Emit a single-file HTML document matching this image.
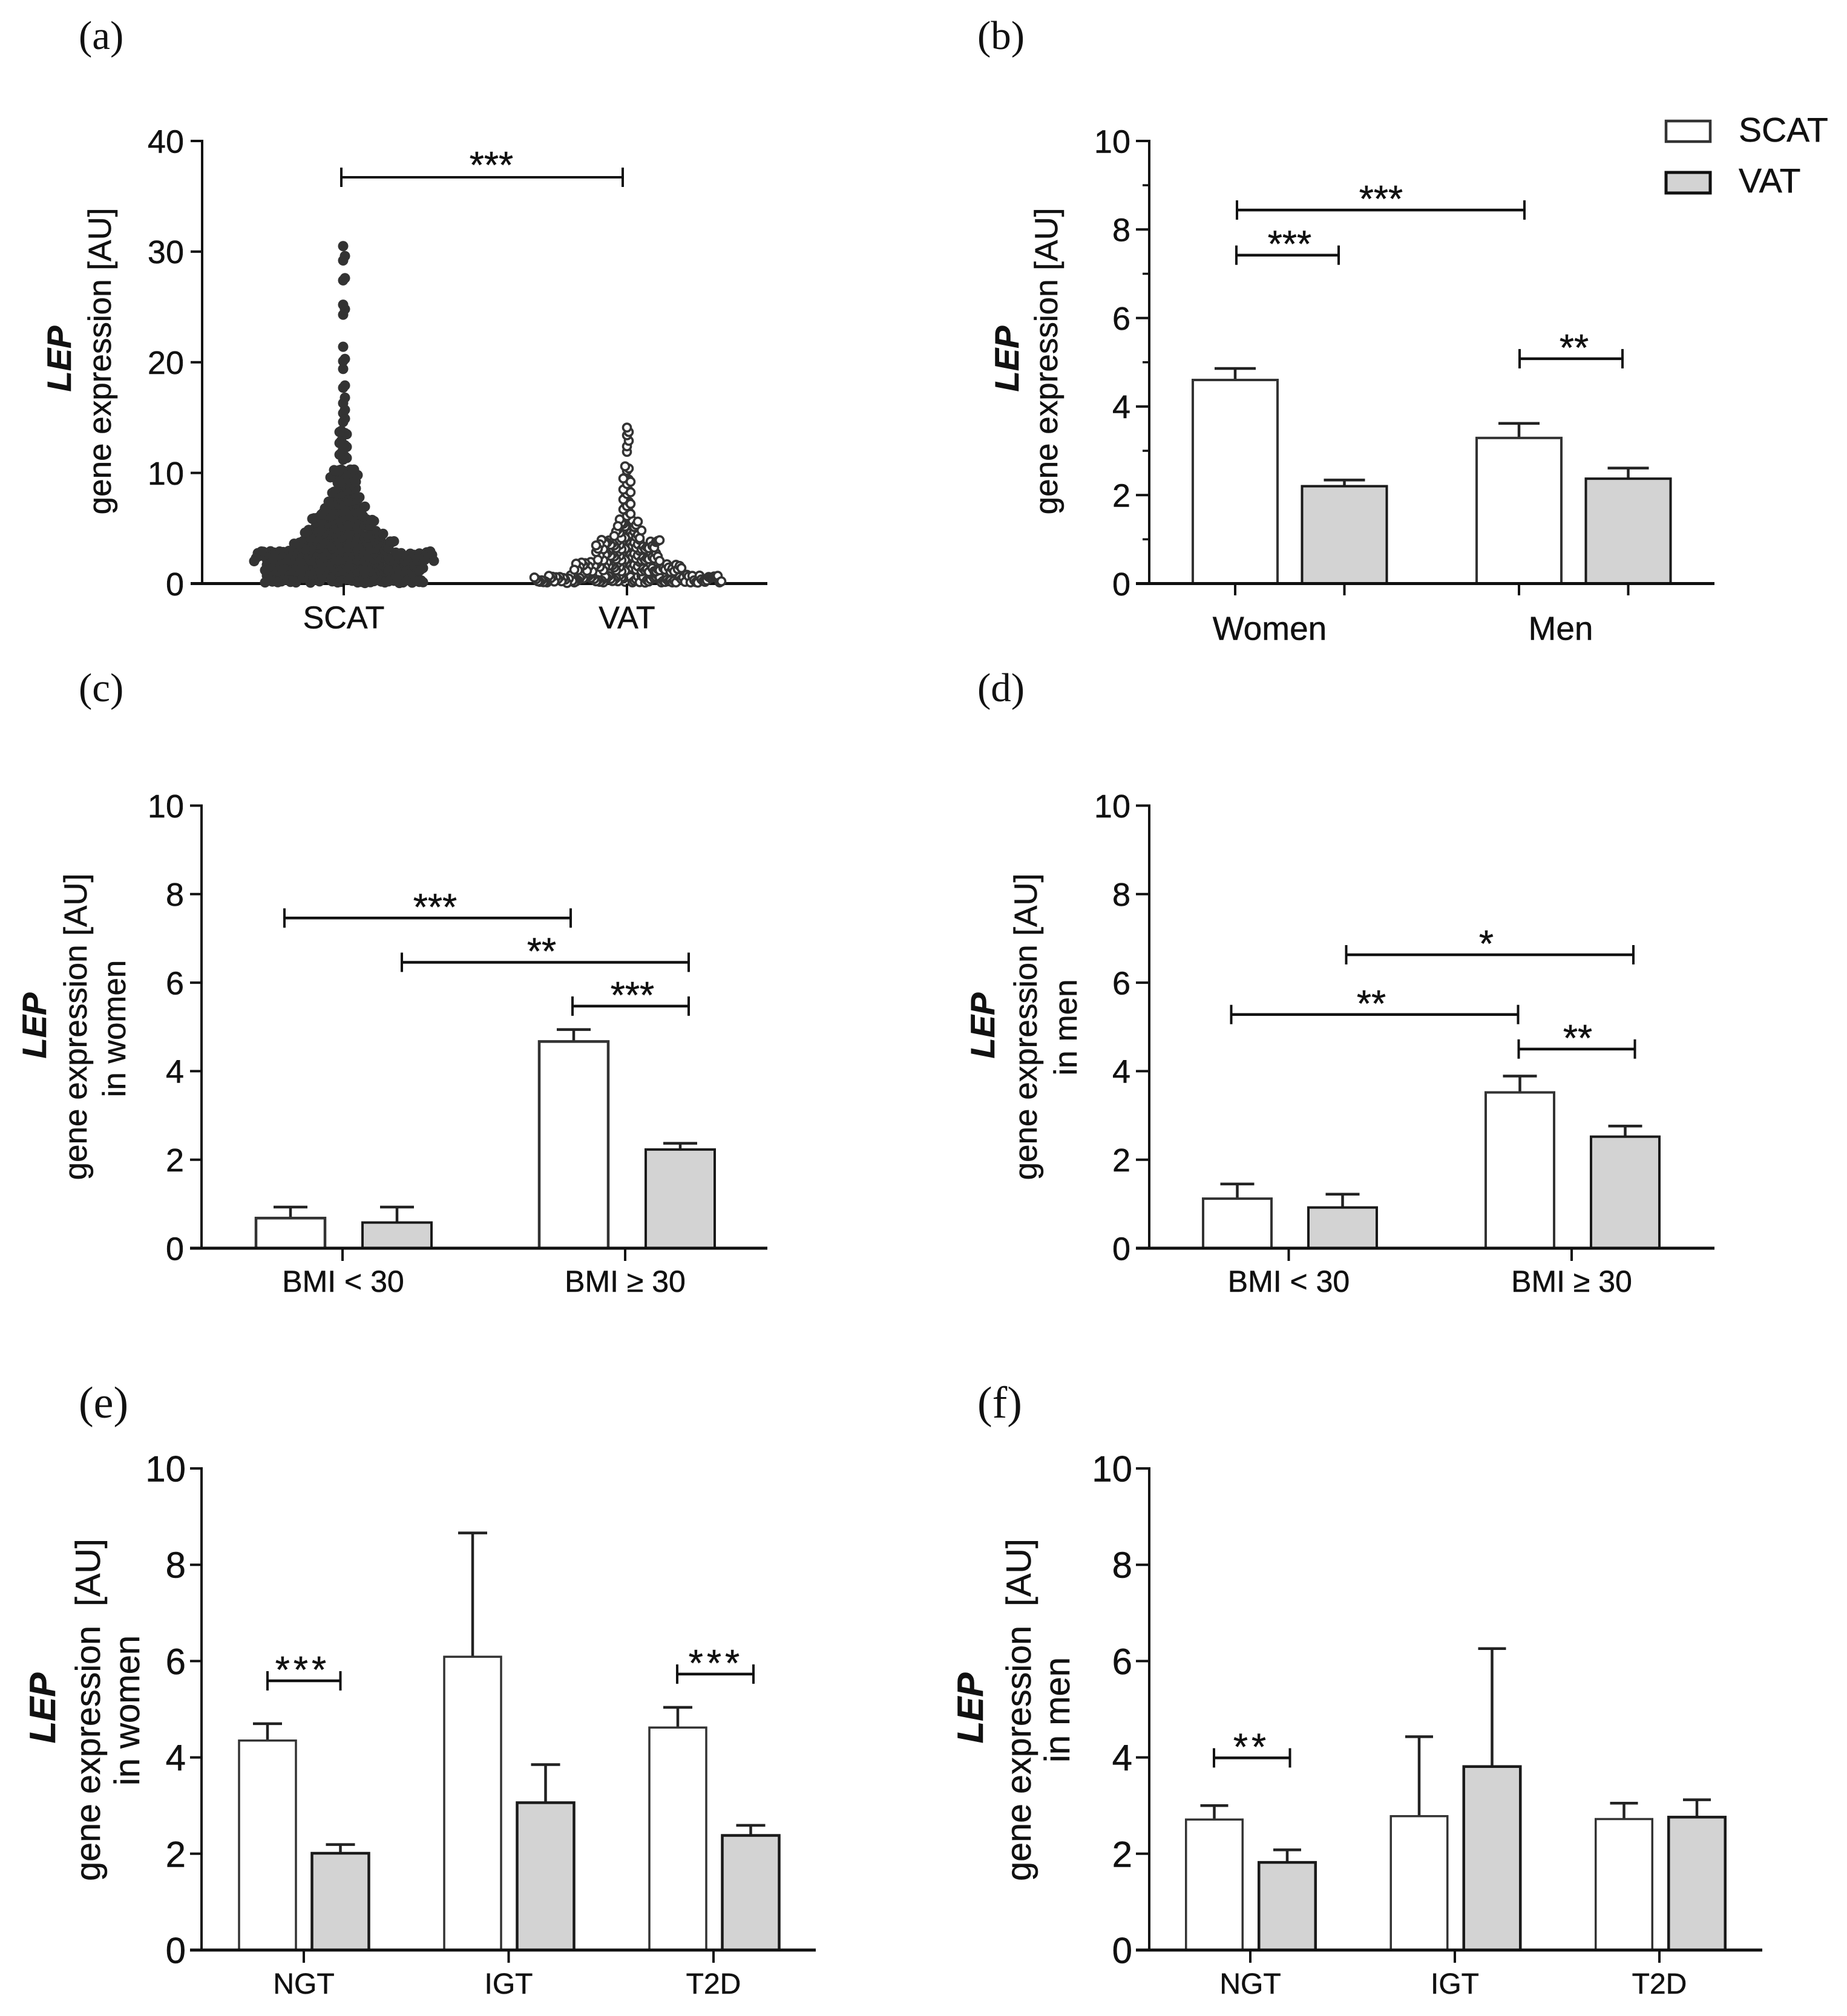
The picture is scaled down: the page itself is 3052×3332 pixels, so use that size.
<!DOCTYPE html>
<html lang="en">
<head>
<meta charset="utf-8">
<title>LEP gene expression</title>
<style>
html,body{margin:0;padding:0;background:#fff;}
svg{display:block;}
text{font-family:"Liberation Sans",sans-serif;fill:#111;stroke:#111;stroke-width:.5px;}
.panel-letter{font-family:"Liberation Serif",serif;font-size:67px;fill:#111;stroke:none;}
.panel-letter-big{font-size:74px;}
</style>
</head>
<body>
<svg id="figure" xmlns="http://www.w3.org/2000/svg" width="3052" height="3332" viewBox="0 0 3052 3332">
  <rect x="0" y="0" width="3052" height="3332" fill="#fff"/>
  <text class="panel-letter" x="130" y="81">(a)</text>
  <text class="panel-letter" x="1615" y="81">(b)</text>
  <text class="panel-letter" x="130" y="1159">(c)</text>
  <text class="panel-letter" x="1615" y="1159">(d)</text>
  <text class="panel-letter panel-letter-big" x="130" y="2343">(e)</text>
  <text class="panel-letter panel-letter-big" x="1615" y="2343">(f)</text>
  <g>
    <rect x="2753" y="200" width="73" height="34" fill="#fff" stroke="#333" stroke-width="4.5"/>
    <text x="2873" y="234" font-size="57">SCAT</text>
    <rect x="2753" y="285" width="73" height="34" fill="#d3d3d3" stroke="#111" stroke-width="5"/>
    <text x="2873" y="318" font-size="57">VAT</text>
  </g>
</svg>
<script>
const NS = 'http://www.w3.org/2000/svg';
const figure = document.getElementById('figure');

/* ---------- data ---------- */
const swarmCategories = ['SCAT', 'VAT'];
const swarmTicks = [0, 10, 20, 30, 40];
const barTicks = [0, 2, 4, 6, 8, 10];
const minorTicksB = [1, 3, 5, 7, 9];

const scatValues = [
.3,.8,.15,.6,.9,.4,.1,.7,.5,.25,.85,.55,.2,.95,.45,.1,.65,.35,.8,.15,.6,.3,.9,.05,.5,.75,.2,.4,.85,.12,.62,.32,.92,.22,.52,.72,.08,.42,.82,.28,.58,.18,.88,.38,
.5,.1,.9,.3,.7,.2,.6,.8,.1,.4,.95,.25,.55,.75,.15,.45,.85,.05,.65,.35,.9,.1,.5,.7,.2,.3,.8,.6,.12,.42,.92,.08,.58,.72,.18,.38,.62,.22,.48,.15,.72,.28,.1,.12,
1.3,1.8,1.15,1.6,1.9,1.4,1.1,1.7,1.5,1.25,1.85,1.55,1.2,1.95,1.45,1.1,1.65,1.35,1.8,1.15,1.6,1.3,1.9,1.05,1.5,1.75,1.2,1.4,1.85,1.12,1.62,1.32,1.92,1.22,1.52,1.72,1.08,1.42,1.82,1.28,1.58,1.18,1.88,1.38,
1.5,1.1,1.9,1.3,1.7,1.2,1.6,1.8,1.1,1.4,1.95,1.25,1.55,1.75,1.15,1.45,1.85,1.05,1.65,1.35,1.9,1.1,1.5,1.7,1.2,1.3,1.8,1.6,1.12,1.42,1.92,1.08,1.58,1.72,1.18,1.38,1.62,1.22,1.48,1.15,1.7,1.3,1.2,1.4,
2.3,2.8,2.15,2.6,2.9,2.4,2.1,2.7,2.5,2.25,2.85,2.55,2.2,2.95,2.45,2.1,2.65,2.35,2.8,2.15,2.6,2.3,2.9,2.05,2.5,2.75,2.2,2.4,2.85,2.12,2.62,2.32,2.92,2.22,2.52,2.72,2.08,2.42,2.82,2.28,2.58,2.18,2.88,2.38,2.68,2.48,2.78,2.24,2.64,2.34,
2.5,2.1,2.9,2.3,2.7,2.2,2.6,2.8,2.1,2.4,2.95,2.25,2.55,2.75,2.15,2.45,2.85,2.05,2.65,2.35,2.9,2.1,2.5,2.7,2.2,2.3,2.8,2.6,2.12,2.42,2.92,2.08,2.58,2.72,2.18,2.38,2.62,2.22,2.88,2.15,2.9,2.82,2.5,2.4,2.75,2.9,2.3,2.6,2.02,2.05,
3.3,3.8,3.15,3.6,3.9,3.4,3.1,3.7,3.5,3.25,3.85,3.55,3.2,3.95,3.45,3.1,3.65,3.35,3.8,3.15,3.6,3.3,3.75,3.05,3.5,3.7,3.2,3.4,
3.5,3.1,3.9,3.3,3.7,3.2,3.6,3.8,3.1,3.4,3.85,3.25,3.55,3.75,3.15,3.45,3.85,3.05,3.65,3.35,3.7,3.2,3.5,3.8,3.3,3.75,3.6,3.82,
4.3,4.8,4.15,4.6,4.9,4.4,4.1,4.7,4.5,4.25,4.85,4.55,4.2,4.95,4.45,4.1,4.65,4.35,4.8,4.15,4.6,4.3,
4.5,4.1,4.9,4.3,4.7,4.2,4.6,4.8,4.1,4.4,4.95,4.25,4.55,4.75,4.15,4.45,4.85,4.35,4.65,4.3,4.6,4.5,
5.3,5.8,5.15,5.6,5.9,5.4,5.1,5.7,5.5,5.25,5.85,5.55,5.2,5.95,5.45,5.1,5.65,5.35,
5.5,5.1,5.9,5.3,5.7,5.2,5.6,5.8,5.1,5.4,5.95,5.25,5.55,5.75,5.9,5.65,5.85,6.0,
6.3,6.8,6.15,6.6,6.9,6.4,6.1,6.7,6.5,6.25,6.85,6.55,
6.5,6.1,6.9,6.3,6.7,6.2,6.6,6.8,6.1,6.4,6.95,6.25,
7.3,7.8,7.15,7.6,7.9,7.4,7.1,7.7,7.5,
7.5,7.1,7.9,7.3,7.7,7.2,7.6,7.4,7.8,
8.3,8.8,8.15,8.6,8.9,8.4,8.1,
8.5,8.1,8.9,8.3,8.7,8.2,8.6,
9.3,9.8,9.15,9.6,9.9,9.4,9.1,9.7,
9.5,9.1,9.9,9.3,9.7,9.2,9.6,9.8,
10.2,10.1,10.3,10.05,10.25,10.1,10.15,10.3,10.2,10.05,10.25,10.3,
11.2,11.5,11.8,11.35,11.65,
12.2,12.5,12.9,12.35,12.7,
13.4,13.6,13.8,13.5,13.7,
14.6,14.9,
15.4,15.7,
16.3,16.8,
17.7,17.9,
19.4,
20.1,20.3,
21.4,
24.3,24.8,
25.2,
27.4,27.6,
29.2,29.6,
30.5
];

const vatValues = [
.3,.7,.15,.6,.45,.1,.55,.25,.75,.4,.2,.65,.5,.12,.35,.72,.22,.58,.42,.08,.68,.3,.52,.18,.62,.38,.1,.7,.28,.48,.15,.6,.32,.75,.2,.55,.42,.1,.66,.25,.5,.14,.7,.36,.58,.2,.64,.3,.46,.1,.72,.26,
.5,.1,.3,.7,.2,.6,.1,.4,.25,.55,.75,.15,.45,.8,.05,.65,.35,.1,.5,.7,.2,.3,.6,.12,.42,.08,.58,.72,.18,.38,.62,.22,.48,.15,.7,.28,.1,.6,.2,.5,.12,.55,.3,.65,.15,.6,.2,.7,.4,.1,.55,.2,
1.3,1.8,1.15,1.6,1.9,1.4,1.1,1.7,1.5,1.25,1.85,1.55,1.2,1.95,1.45,1.1,1.65,1.35,1.8,1.15,1.6,1.3,1.9,1.05,1.5,1.75,1.2,1.4,1.85,1.12,
1.5,1.1,1.9,1.3,1.7,1.2,1.6,1.8,1.1,1.4,1.95,1.25,1.55,1.75,1.15,1.45,1.85,1.05,1.65,1.35,1.9,1.1,1.5,1.7,1.2,1.3,1.8,1.6,1.25,1.4,
2.3,2.8,2.15,2.6,2.9,2.4,2.1,2.7,2.5,2.25,2.85,2.55,2.2,2.95,2.45,2.1,2.65,2.35,
2.5,2.1,2.9,2.3,2.7,2.2,2.6,2.8,2.1,2.4,2.95,2.25,2.55,2.75,2.15,2.45,2.85,2.05,
3.3,3.8,3.15,3.6,3.9,3.4,3.1,3.7,3.5,3.25,3.85,3.55,3.2,3.95,3.45,3.1,3.65,3.35,
3.5,3.1,3.9,3.3,3.7,3.2,3.6,3.8,3.1,3.4,3.95,3.25,3.55,3.75,3.15,3.85,3.45,3.92,
4.3,4.8,4.15,4.6,4.9,4.4,4.1,4.7,
4.6,4.2,4.9,4.4,4.7,4.1,4.3,4.8,
5.3,5.8,5.15,5.6,5.4,5.7,
5.5,5.1,5.8,5.3,5.2,5.6,
6.1,6.5,6.9,6.3,6.7,
7.0,7.4,7.8,7.2,7.6,
8.1,8.4,8.6,8.25,8.5,
9.0,9.4,9.6,9.2,9.5,
10.2,10.4,10.6,
11.9,
12.4,12.9,
13.4,13.7,
14.1
];

const catsB = ['Women', 'Men'];
const scatMeanB = [4.60, 3.29];
const scatTopB = [4.86, 3.62];
const vatMeanB = [2.20, 2.37];
const vatTopB = [2.34, 2.61];
const bracketLevelsB = [8.44, 7.42, 5.08];
const bracketStarsB = ['***', '***', '**'];

const catsC = ['BMI < 30', 'BMI \u2265 30'];
const scatMeanC = [0.68, 4.67];
const scatTopC = [0.93, 4.94];
const vatMeanC = [0.58, 2.23];
const vatTopC = [0.93, 2.37];
const bracketLevelsC = [7.46, 6.46, 5.47];
const bracketStarsC = ['***', '**', '***'];

const catsD = ['BMI < 30', 'BMI \u2265 30'];
const scatMeanD = [1.12, 3.52];
const scatTopD = [1.45, 3.89];
const vatMeanD = [0.92, 2.52];
const vatTopD = [1.22, 2.76];
const bracketLevelsD = [6.63, 5.28, 4.50];
const bracketStarsD = ['*', '**', '**'];

const catsE = ['NGT', 'IGT', 'T2D'];
const scatMeanE = [4.35, 6.09, 4.62];
const scatTopE = [4.70, 8.66, 5.04];
const vatMeanE = [2.01, 3.06, 2.38];
const vatTopE = [2.19, 3.85, 2.59];
const bracketLevelsE = [5.59, 5.73];
const bracketStarsE = ['***', '***'];

const catsF = ['NGT', 'IGT', 'T2D'];
const scatMeanF = [2.71, 2.78, 2.72];
const scatTopF = [3.00, 4.43, 3.05];
const vatMeanF = [1.82, 3.81, 2.76];
const vatTopF = [2.08, 6.26, 3.12];
const bracketLevelsF = [3.99];
const bracketStarsF = ['**'];

/* ---------- layout (pixels, no data) ---------- */
const layoutA = {id:'a', ax:334, y0:964.5, yTop:233, yMax:40, left:315, right:1268, tickFs:54, tickEnd:304, catFs:52, catY:1020, tickBottom:984};
const layoutB = {id:'b', ax:1899, y0:964.5, yTop:233, yMax:10, left:1877, right:2833, tickFs:54, tickEnd:1868, catFs:55, catY:1038, tickBottom:984,
  start:2041, groupStep:469, barStep:180.5, barW:140, cap:34, tickStart:2041, tickPerBar:true, labelStart:2098, labelStep:481,
  brX:[[2044,2519],[2043,2212],[2511,2681]], starX:[2282,2131,2601], capH:16, barSw:4, vatSw:4, starSpace:0};
const layoutC = {id:'c', ax:333, y0:2063, yTop:1331.5, yMax:10, left:314, right:1268, tickFs:54, tickEnd:304, catFs:50, catY:2117, tickBottom:2084,
  start:480, groupStep:468, barStep:176, barW:114, cap:28, tickStart:566, tickStep:467, labelStart:567, labelStep:466,
  brX:[[470,943],[664,1138],[946,1138]], starX:[719,895,1045], capH:16, barSw:4.5, vatSw:4, starSpace:0};
const layoutD = {id:'d', ax:1899, y0:2063, yTop:1331.5, yMax:10, left:1877, right:2833, tickFs:54, tickEnd:1868, catFs:50, catY:2117, tickBottom:2084,
  start:2044.5, groupStep:467, barStep:174, barW:113, cap:28, tickStart:2129.5, tickStep:467.5, labelStart:2129.5, labelStep:467.5,
  brX:[[2224.5,2699],[2034.5,2508.5],[2509.5,2701.5]], starX:[2456,2266,2607], capH:16, barSw:4, vatSw:4, starSpace:0};
const layoutE = {id:'e', ax:333, y0:3223, yTop:2427, yMax:10, left:314, right:1348, tickFs:60, tickEnd:307, catFs:48, catY:3278, tickBottom:3244,
  start:442, groupStep:339, barStep:120.5, barW:94, cap:24, tickStart:502, tickStep:338.5, labelStart:502, labelStep:338.5,
  brX:[[442,562.5],[1119,1245]], starX:[500,1183], capH:16, barSw:3.5, vatSw:4.5, starSpace:6};
const layoutF = {id:'f', ax:1899, y0:3223, yTop:2427, yMax:10, left:1877, right:2912, tickFs:60, tickEnd:1871, catFs:48, catY:3278, tickBottom:3244,
  start:2006.5, groupStep:338.5, barStep:120.5, barW:93.5, cap:23, tickStart:2066, tickStep:338, labelStart:2066, labelStep:338,
  brX:[[2006,2131.5]], starX:[2068], capH:16, barSw:3.5, vatSw:4.5, starSpace:6};

/* ---------- drawing helpers ---------- */
function make(parent, tag, attrs, content) {
  const el = document.createElementNS(NS, tag);
  for (const k in attrs) el.setAttribute(k, attrs[k]);
  if (content !== undefined) el.textContent = content;
  parent.appendChild(el);
  return el;
}
function yScale(L) {
  return function (v) { return L.y0 - (v / L.yMax) * (L.y0 - L.yTop); };
}
function line(parent, x1, y1, x2, y2, sw, color) {
  return make(parent, 'line', {x1:x1, y1:y1, x2:x2, y2:y2, stroke:color || '#111', 'stroke-width':sw});
}
function drawAxes(g, L, ticks, minor) {
  const y = yScale(L);
  const axisY = line(g, L.ax, L.y0, L.ax, L.yTop - 2, 4);
  
  
  ticks.forEach(function (t) {
    const tick = line(g, L.left, y(t), L.ax, y(t), 4);
    
    
    const label = make(g, 'text', {x:L.tickEnd, y:y(t) + L.tickFs * 0.358, 'text-anchor':'end', 'font-size':L.tickFs}, String(t));
    
    
  });
  (minor || []).forEach(function (t) {
    const tick = line(g, L.left + 11, y(t), L.ax, y(t), 3.5);
    
    
  });
  const axisX = line(g, L.left, L.y0, L.right, L.y0, 5);
  
  
}
function yLabel(g, text, bx, cy, fs, bold) {
  const t = make(g, 'text', {
    transform:'translate(' + bx + ',' + cy + ') rotate(-90)',
    'text-anchor':'middle', 'font-size':fs, 'xml:space':'preserve'
  }, text);
  if (bold) {
    t.setAttribute('font-weight', 'bold');
    t.setAttribute('font-style', 'italic');
  }
  
  
  return t;
}
function drawBracket(g, L, level, stars, idx) {
  const y = yScale(L)(level);
  const xs = L.brX[idx];
  const b = make(g, 'g', {});
  
  
  line(b, xs[0], y, xs[1], y, 4.5);
  line(b, xs[0], y - L.capH, xs[0], y + L.capH, 4);
  line(b, xs[1], y - L.capH, xs[1], y + L.capH, 4);
  const s = make(b, 'text', {x:L.starX[idx], y:y + 3, 'text-anchor':'middle', 'font-size':62, 'letter-spacing':L.starSpace, 'stroke-width':1.2}, stars);
  
  
}
function drawBar(g, L, group, series, mean, top) {
  const y = yScale(L);
  const cx = L.start + group * L.groupStep + series * L.barStep;
  const name = (series === 0 ? 'scat' : 'vat');
  const err = make(g, 'g', {});
  
  
  line(err, cx, y(mean), cx, y(top), 4.5, '#222');
  line(err, cx - L.cap, y(top), cx + L.cap, y(top), 4.5, '#222');
  const bar = make(g, 'rect', {
    x:cx - L.barW / 2, y:y(mean), width:L.barW, height:L.y0 - y(mean),
    fill: series === 0 ? '#fff' : '#d3d3d3',
    stroke: series === 0 ? '#333' : '#1a1a1a',
    'stroke-width': series === 0 ? L.barSw : L.vatSw
  });
  
  
}
function drawBarPanel(L, cats, scatMean, scatTop, vatMean, vatTop, levels, stars, minor) {
  const g = make(figure, 'g', {});
  
  
  cats.forEach(function (c, i) {
    drawBar(g, L, i, 0, scatMean[i], scatTop[i]);
    drawBar(g, L, i, 1, vatMean[i], vatTop[i]);
    if (L.tickPerBar) {
      [0, 1].forEach(function (s) {
        const cx = L.start + i * L.groupStep + s * L.barStep;
        const t = line(g, cx, L.y0, cx, L.tickBottom, 4);
        
        
      });
    } else {
      const tx = L.tickStart + i * L.tickStep;
      const t = line(g, tx, L.y0, tx, L.tickBottom, 4);
      
      
    }
    const lab = make(g, 'text', {x:L.labelStart + i * L.labelStep, y:L.catY + L.catFs * 0.358, 'text-anchor':'middle', 'font-size':L.catFs}, c);
    
    
  });
  drawAxes(g, L, barTicks, minor);
  levels.forEach(function (lv, i) { drawBracket(g, L, lv, stars[i], i); });
  return g;
}

/* ---------- panel a: swarm ---------- */
const swarmCentreScat = 567;
const swarmCentreVat = 1036;
const swarmStep = 3;
function swarm(g, L, values, centre, fill, stroke, sw, r, name) {
  const y = yScale(L);
  const seen = {};
  values.forEach(function (v) {
    const bin = Math.floor(v);
    seen[bin] = (seen[bin] || 0) + 1;
    const k = Math.floor(seen[bin] / 2);
    const side = seen[bin] % 2 === 0 ? 1 : -1;
    const c = make(g, 'circle', {cx:centre + side * k * swarmStep, cy:y(v), r:r, fill:fill, stroke:stroke, 'stroke-width':sw});
    
    
  });
}
(function () {
  const L = layoutA;
  const g = make(figure, 'g', {});
  
  
  drawAxes(g, L, swarmTicks);
  swarm(g, L, scatValues, swarmCentreScat, '#333', '#333', 0, 8.5, 'scat-point');
  swarm(g, L, vatValues, swarmCentreVat, '#fff', '#333', 3.6, 6.5, 'vat-point');
  swarmCategories.forEach(function (c, i) {
    const tx = i === 0 ? 568 : 1036;
    const t = line(g, tx, L.y0, tx, L.tickBottom, 4);
    
    
    const lab = make(g, 'text', {x:tx, y:L.catY + L.catFs * 0.358, 'text-anchor':'middle', 'font-size':L.catFs}, c);
    
    
  });
  const b = make(g, 'g', {});
  
  
  line(b, 564, 293, 1029, 293, 4);
  line(b, 564, 277, 564, 309, 4);
  line(b, 1029, 277, 1029, 309, 4);
  const s = make(b, 'text', {x:812, y:294, 'text-anchor':'middle', 'font-size':62, 'stroke-width':1.2}, '***');
  
  
  yLabel(g, 'LEP', 117, 593, 56, true);
  yLabel(g, 'gene expression [AU]', 183, 597, 53, false);
})();

/* ---------- bar panels ---------- */
const gB = drawBarPanel(layoutB, catsB, scatMeanB, scatTopB, vatMeanB, vatTopB, bracketLevelsB, bracketStarsB, minorTicksB);
yLabel(gB, 'LEP', 1683, 593, 56, true);
yLabel(gB, 'gene expression [AU]', 1747, 597, 53, false);

const gC = drawBarPanel(layoutC, catsC, scatMeanC, scatTopC, vatMeanC, vatTopC, bracketLevelsC, bracketStarsC);
yLabel(gC, 'LEP', 76, 1695, 56, true);
yLabel(gC, 'gene expression [AU]', 143, 1697, 53, false);
yLabel(gC, 'in women', 207, 1700, 53, false);

const gD = drawBarPanel(layoutD, catsD, scatMeanD, scatTopD, vatMeanD, vatTopD, bracketLevelsD, bracketStarsD);
yLabel(gD, 'LEP', 1643, 1695, 56, true);
yLabel(gD, 'gene expression [AU]', 1713, 1697, 53, false);
yLabel(gD, 'in men', 1779, 1698, 53, false);

const gE = drawBarPanel(layoutE, catsE, scatMeanE, scatTopE, vatMeanE, vatTopE, bracketLevelsE, bracketStarsE);
yLabel(gE, 'LEP', 91, 2823, 60, true);
yLabel(gE, 'gene expression\u00a0 [AU]', 165, 2826, 57.5, false);
yLabel(gE, 'in women', 230, 2827, 58, false);

const gF = drawBarPanel(layoutF, catsF, scatMeanF, scatTopF, vatMeanF, vatTopF, bracketLevelsF, bracketStarsF);
yLabel(gF, 'LEP', 1624, 2823, 60, true);
yLabel(gF, 'gene expression\u00a0 [AU]', 1703, 2826, 57.5, false);
yLabel(gF, 'in men', 1767, 2826, 58, false);
</script>
</body>
</html>
